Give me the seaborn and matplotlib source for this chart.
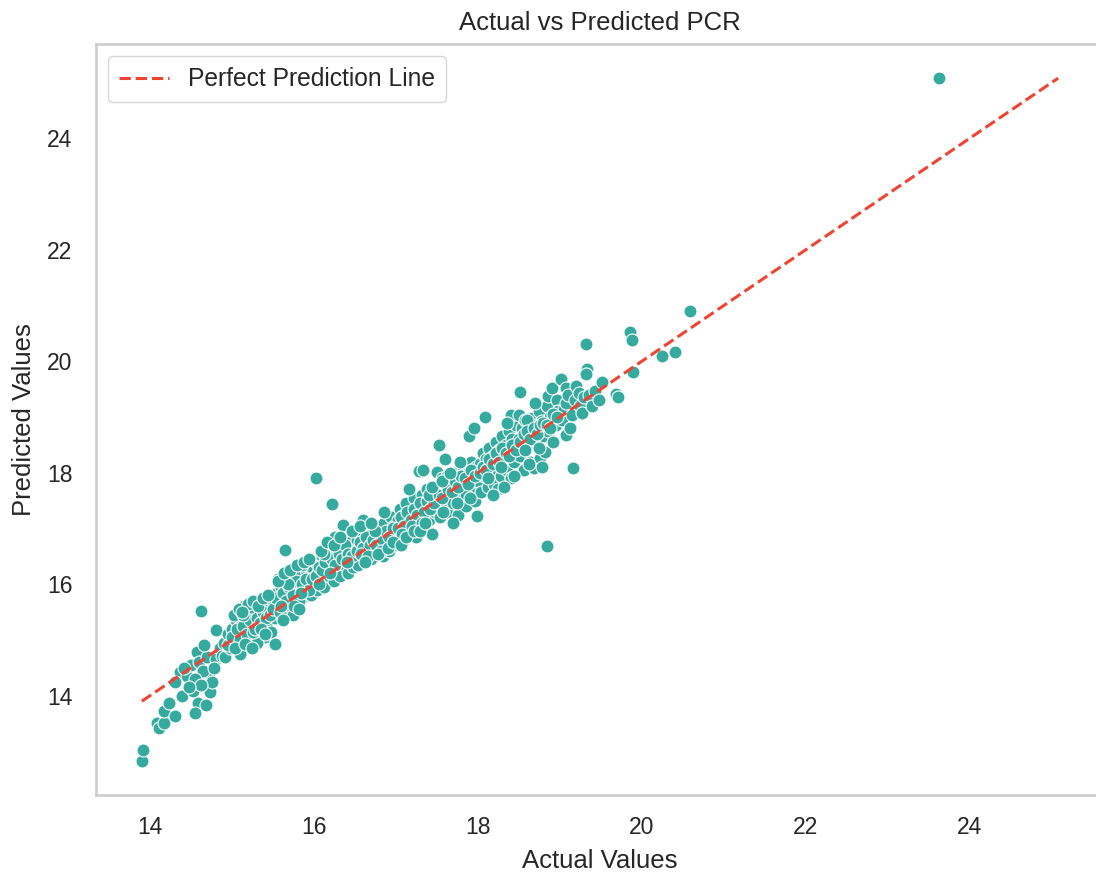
import numpy as np
import pandas as pd
import matplotlib
matplotlib.use("Agg")
import matplotlib.pyplot as plt
import seaborn as sns

# ---- data (actual vs predicted) ----
actual_a = [13.90, 13.92, 14.09, 14.11, 14.17, 14.17, 14.23, 14.31, 14.39, 14.52,
            14.58, 14.68, 14.55, 14.73, 14.37, 14.31, 14.72, 14.76, 14.62, 14.57,
            14.80, 14.45, 14.50, 14.60, 14.65, 14.70, 14.55, 14.62, 14.80, 14.85,
            14.48, 14.66, 14.78, 14.42, 14.88]
pred_a = [12.83, 13.03, 13.51, 13.42, 13.51, 13.72, 13.87, 13.63, 13.99, 14.08,
          13.87, 13.84, 13.69, 14.06, 14.43, 14.25, 14.40, 14.25, 15.52, 14.78,
          15.18, 14.35, 14.55, 14.60, 14.45, 14.70, 14.30, 14.20, 14.65, 14.85,
          14.15, 14.90, 14.50, 14.50, 14.72]

actual_b = [14.90, 14.92, 14.95, 14.98, 15.00, 15.02, 15.05, 15.05, 15.08, 15.10,
            15.12, 15.12, 15.15, 15.18, 15.20, 15.20, 15.22, 15.25, 15.25, 15.28,
            15.30, 15.32, 15.34, 15.36, 15.38, 15.40, 15.40, 15.42, 15.45, 15.45,
            15.48, 15.48, 15.02, 15.15, 15.10, 15.30, 15.52]
pred_b = [14.95, 14.70, 15.10, 14.85, 15.20, 14.95, 15.05, 15.35, 14.80, 15.15,
          15.30, 14.95, 15.05, 15.40, 15.20, 14.90, 15.10, 15.30, 15.50, 15.00,
          15.25, 15.40, 15.15, 15.55, 15.30, 15.05, 15.45, 15.25, 15.60, 15.35,
          15.15, 15.50, 15.45, 15.60, 14.75, 14.95, 14.93]

actual_c = [15.50, 15.52, 15.54, 15.55, 15.58, 15.60, 15.60, 15.62, 15.64, 15.65,
            15.66, 15.68, 15.70, 15.70, 15.72, 15.74, 15.76, 15.78, 15.80, 15.80,
            15.82, 15.84, 15.85, 15.88, 15.90, 15.90, 15.92, 15.95, 15.96, 15.98,
            15.65, 15.56, 15.75, 15.86]
pred_c = [15.70, 15.40, 15.55, 15.85, 15.65, 15.45, 15.95, 15.75, 15.60, 16.05,
          15.85, 15.50, 15.70, 16.10, 15.90, 15.65, 16.00, 15.80, 16.15, 15.60,
          15.95, 16.20, 15.75, 16.05, 15.85, 16.25, 16.00, 16.15, 15.80, 16.30,
          16.61, 16.10, 15.45, 16.35]

actual_d = [16.00, 16.02, 16.04, 16.05, 16.08, 16.10, 16.10, 16.12, 16.14, 16.16,
            16.18, 16.20, 16.22, 16.24, 16.25, 16.28, 16.30, 16.30, 16.32, 16.35,
            16.36, 16.38, 16.40, 16.42, 16.44, 16.45, 16.48, 16.48, 16.02, 16.22,
            16.35, 16.15, 16.26]
pred_d = [16.05, 16.40, 15.90, 16.20, 16.35, 16.10, 16.50, 15.95, 16.25, 16.45,
          16.15, 16.60, 16.30, 16.05, 16.45, 16.25, 16.65, 16.40, 16.15, 16.55,
          16.80, 16.35, 16.60, 16.20, 16.75, 16.45, 16.65, 16.30, 17.91, 17.44,
          17.06, 16.70, 16.85]

actual_e = [16.50, 16.52, 16.54, 16.55, 16.58, 16.60, 16.62, 16.64, 16.65, 16.68,
            16.70, 16.70, 16.72, 16.74, 16.76, 16.78, 16.80, 16.82, 16.84, 16.85,
            16.88, 16.90, 16.92, 16.94, 16.95, 16.98, 16.98, 16.60, 16.86]
pred_e = [16.55, 16.80, 16.35, 16.65, 16.90, 16.50, 16.75, 17.00, 16.60, 16.85,
          16.45, 16.70, 16.95, 16.60, 16.80, 17.05, 16.65, 16.90, 16.50, 17.10,
          16.75, 16.95, 16.60, 17.20, 16.85, 17.05, 16.70, 17.15, 17.30]

actual_f = [17.00, 17.02, 17.04, 17.05, 17.08, 17.10, 17.10, 17.12, 17.15, 17.18,
            17.20, 17.22, 17.24, 17.25, 17.28, 17.30, 17.32, 17.34, 17.36, 17.38,
            17.40, 17.42, 17.44, 17.45, 17.48, 17.28, 17.33, 17.50, 17.52, 17.60,
            17.16]
pred_f = [16.90, 17.15, 16.75, 17.35, 17.00, 17.25, 16.80, 17.45, 17.10, 16.95,
          17.30, 17.55, 17.15, 16.85, 17.40, 17.20, 17.60, 17.00, 17.35, 17.70,
          17.15, 17.45, 16.90, 17.60, 17.30, 18.03, 18.05, 18.01, 18.50, 18.24,
          17.70]

actual_g = [17.50, 17.52, 17.54, 17.56, 17.58, 17.60, 17.62, 17.64, 17.66, 17.68,
            17.70, 17.72, 17.74, 17.76, 17.78, 17.80, 17.82, 17.84, 17.86, 17.88,
            17.90, 17.92, 17.94, 17.96, 17.98, 17.99, 17.89, 17.95, 17.70, 17.85]
pred_g = [17.50, 17.75, 17.20, 17.90, 17.40, 17.65, 17.95, 17.30, 17.55, 17.80,
          17.45, 18.00, 17.65, 17.25, 17.90, 17.55, 18.10, 17.75, 17.40, 18.00,
          17.70, 18.20, 17.85, 17.50, 18.10, 17.23, 18.65, 18.80, 17.10, 17.60]

actual_h = [18.00, 18.02, 18.04, 18.06, 18.08, 18.09, 18.10, 18.12, 18.14, 18.16,
            18.18, 18.20, 18.22, 18.24, 18.26, 18.28, 18.30, 18.32, 18.34, 18.36,
            18.38, 18.40, 18.40, 18.42, 18.44, 18.46, 18.48, 18.40, 18.50, 18.51,
            18.25, 18.35]
pred_h = [17.85, 18.15, 17.65, 18.35, 17.95, 19.00, 18.25, 17.75, 18.45, 18.05,
          18.30, 17.80, 18.55, 18.15, 18.40, 17.95, 18.65, 18.25, 18.50, 18.05,
          18.75, 17.90, 18.40, 18.60, 18.20, 18.85, 18.45, 19.04, 19.04, 19.44,
          17.70, 18.90]

actual_i = [18.50, 18.52, 18.54, 18.56, 18.58, 18.60, 18.62, 18.64, 18.66, 18.68,
            18.70, 18.72, 18.74, 18.76, 18.78, 18.80, 18.82, 18.84, 18.85, 18.86,
            18.88, 18.90, 18.92, 18.95, 18.97, 18.98, 18.84, 18.40, 18.60, 18.70]
pred_i = [18.60, 18.30, 18.80, 18.05, 18.95, 18.50, 18.70, 18.20, 18.98, 18.08,
          18.85, 18.55, 19.10, 18.26, 18.92, 18.65, 18.38, 19.20, 19.38, 18.75,
          19.00, 19.52, 18.55, 18.86, 19.31, 19.10, 16.69, 17.90, 18.95, 19.25]

actual_j = [19.01, 19.03, 19.05, 19.07, 19.07, 19.07, 19.10, 19.13, 19.15, 19.16,
            19.18, 19.20, 19.23, 19.25, 19.27, 19.30, 19.32, 19.33, 19.32, 19.35,
            19.39, 19.43, 19.48, 19.52, 19.68, 19.71, 19.86, 19.88, 19.89, 20.25,
            20.41, 20.59, 23.62]
pred_j = [19.68, 18.95, 19.15, 19.52, 19.25, 18.68, 19.40, 18.80, 19.04, 18.09,
          19.30, 19.55, 19.43, 19.20, 19.07, 19.35, 20.31, 19.86, 19.78, 19.40,
          19.19, 19.46, 19.30, 19.62, 19.41, 19.35, 20.53, 20.39, 19.80, 20.10,
          20.16, 20.90, 25.08]

# extra points filling the dense band
actual_k = [14.95, 15.00, 15.06, 15.10, 15.14, 15.18, 15.22, 15.26, 15.30, 15.34,
            15.38, 15.42, 15.46, 15.50, 15.04, 15.16, 15.28, 15.36,
            15.54, 15.58, 15.62, 15.66, 15.70, 15.74, 15.78, 15.82, 15.86, 15.90,
            15.94, 15.98, 15.60, 15.68, 15.76, 15.84,
            16.02, 16.06, 16.10, 16.14, 16.18, 16.22, 16.26, 16.30, 16.34, 16.38,
            16.42, 16.46, 16.06, 16.20, 16.40, 16.12]
pred_k = [14.90, 15.05, 15.20, 15.00, 15.25, 15.10, 15.35, 15.15, 15.40, 15.30,
          15.50, 15.40, 15.45, 15.55, 14.85, 14.92, 15.20, 15.20,
          15.75, 15.50, 15.85, 15.70, 15.95, 15.80, 16.05, 15.70, 16.00, 16.10,
          15.90, 16.10, 15.60, 16.00, 15.60, 15.85,
          16.15, 16.30, 16.25, 16.40, 16.50, 16.45, 16.35, 16.55, 16.45, 16.70,
          16.55, 16.50, 16.00, 16.20, 16.40, 16.55]

actual_m = [16.52, 16.56, 16.60, 16.64, 16.68, 16.72, 16.76, 16.80, 16.84, 16.88,
            16.92, 16.96, 16.58, 16.66, 16.74, 16.82,
            17.02, 17.06, 17.10, 17.14, 17.18, 17.22, 17.26, 17.30, 17.34, 17.38,
            17.42, 17.46, 17.08, 17.20, 17.40, 17.32,
            17.52, 17.56, 17.60, 17.64, 17.68, 17.72, 17.76, 17.80, 17.84, 17.88,
            17.92, 17.96, 17.58, 17.74, 17.90]
pred_m = [16.60, 16.75, 16.65, 16.85, 16.70, 16.80, 16.70, 16.90, 16.80, 16.95,
          16.85, 17.00, 16.55, 16.50, 16.95, 16.60,
          17.00, 17.20, 17.05, 17.30, 17.15, 17.35, 17.25, 17.45, 17.30, 17.50,
          17.35, 17.45, 16.90, 17.05, 17.60, 17.10,
          17.60, 17.55, 17.80, 17.70, 17.65, 17.85, 17.75, 17.95, 17.90, 17.80,
          18.05, 17.95, 17.30, 17.45, 17.55]

actual_n = [18.02, 18.06, 18.10, 18.14, 18.18, 18.22, 18.26, 18.30, 18.34, 18.38,
            18.42, 18.46, 18.12, 18.28,
            18.52, 18.56, 18.60, 18.64, 18.68, 18.72, 18.76, 18.80, 18.84, 18.88,
            18.92, 18.96, 18.58, 18.74]
pred_n = [18.00, 18.10, 18.05, 18.25, 18.15, 18.35, 18.20, 18.45, 18.35, 18.30,
          18.50, 18.40, 17.90, 18.10,
          18.55, 18.70, 18.75, 18.60, 18.80, 18.70, 18.85, 18.90, 18.85, 18.80,
          19.05, 19.00, 18.40, 18.45]

# points widening the band edges
actual_p = [15.08, 15.14, 15.20, 15.26, 15.32, 15.38, 15.44, 15.24, 15.40, 15.12,
            15.56, 15.63, 15.71, 15.79, 15.88, 15.94, 15.62, 15.82,
            16.08, 16.16, 16.24, 16.32, 16.46, 16.56, 16.62, 16.70,
            16.78, 16.90, 16.96, 17.06, 17.12, 17.22, 17.30, 17.36,
            17.44, 17.56, 17.66, 17.78, 18.18, 18.32, 18.44, 18.62, 18.78]
pred_p = [15.55, 15.45, 15.65, 15.70, 15.60, 15.75, 15.80, 14.85, 15.10, 15.50,
          16.05, 16.20, 16.25, 16.35, 16.40, 16.45, 15.35, 15.55,
          16.60, 16.75, 16.70, 16.85, 16.95, 17.05, 16.40, 17.10,
          16.55, 16.65, 16.75, 16.70, 16.85, 16.95, 16.95, 17.10,
          17.75, 17.85, 18.00, 18.20, 17.60, 17.75, 17.95, 18.15, 18.10]

actual = np.array(actual_a + actual_b + actual_c + actual_d + actual_e +
                  actual_f + actual_g + actual_h + actual_i + actual_j +
                  actual_k + actual_m + actual_n + actual_p)
predicted = np.array(pred_a + pred_b + pred_c + pred_d + pred_e +
                     pred_f + pred_g + pred_h + pred_i + pred_j +
                     pred_k + pred_m + pred_n + pred_p)

df = pd.DataFrame({"Actual": actual, "Predicted": predicted})

title = "Actual vs Predicted PCR"
xlabel = "Actual Values"
ylabel = "Predicted Values"
legend_label = "Perfect Prediction Line"

# ---- style ----
sns.set_theme(style="whitegrid")
plt.rcParams["font.family"] = ["Liberation Sans", "DejaVu Sans"]
text_color = "#262626"

fig = plt.figure(figsize=(10.96, 8.73), dpi=100)
# axes extends slightly past the right edge of the figure, as in the reference
ax = fig.add_axes([96 / 1096, 1 - 795 / 873, (1104 - 96) / 1096, (795 - 44) / 873])

sns.scatterplot(data=df, x="Actual", y="Predicted", ax=ax, s=88,
                color="#35aba0", edgecolor="white", linewidth=0.8, zorder=2)

lo = actual.min()
hi = predicted.max()
ax.plot([lo, hi], [lo, hi], linestyle="--", color="#ee4433", linewidth=2.2,
        label=legend_label, zorder=3)

ax.grid(False)
for sp in ax.spines.values():
    sp.set_color("#cccccc")
    sp.set_linewidth(1.9)

ax.set_xticks([14, 16, 18, 20, 22, 24])
ax.set_yticks([14, 16, 18, 20, 22, 24])
ax.tick_params(axis="x", length=0, pad=15, labelsize=16.5, labelcolor=text_color)
ax.tick_params(axis="y", length=0, pad=17, labelsize=16.5, labelcolor=text_color)

ax.set_title(title, fontsize=18.5, color=text_color, pad=10)
ax.set_xlabel(xlabel, fontsize=18.5, color=text_color, labelpad=7)
ax.set_ylabel(ylabel, fontsize=18.5, color=text_color, labelpad=8)

leg = ax.legend(loc="upper left", fontsize=17.7, frameon=True, fancybox=True,
                borderpad=0.45, handlelength=2.0)
leg.get_frame().set_edgecolor("#cccccc")
for t in leg.get_texts():
    t.set_color(text_color)

fig.savefig("out.png", dpi=100)
